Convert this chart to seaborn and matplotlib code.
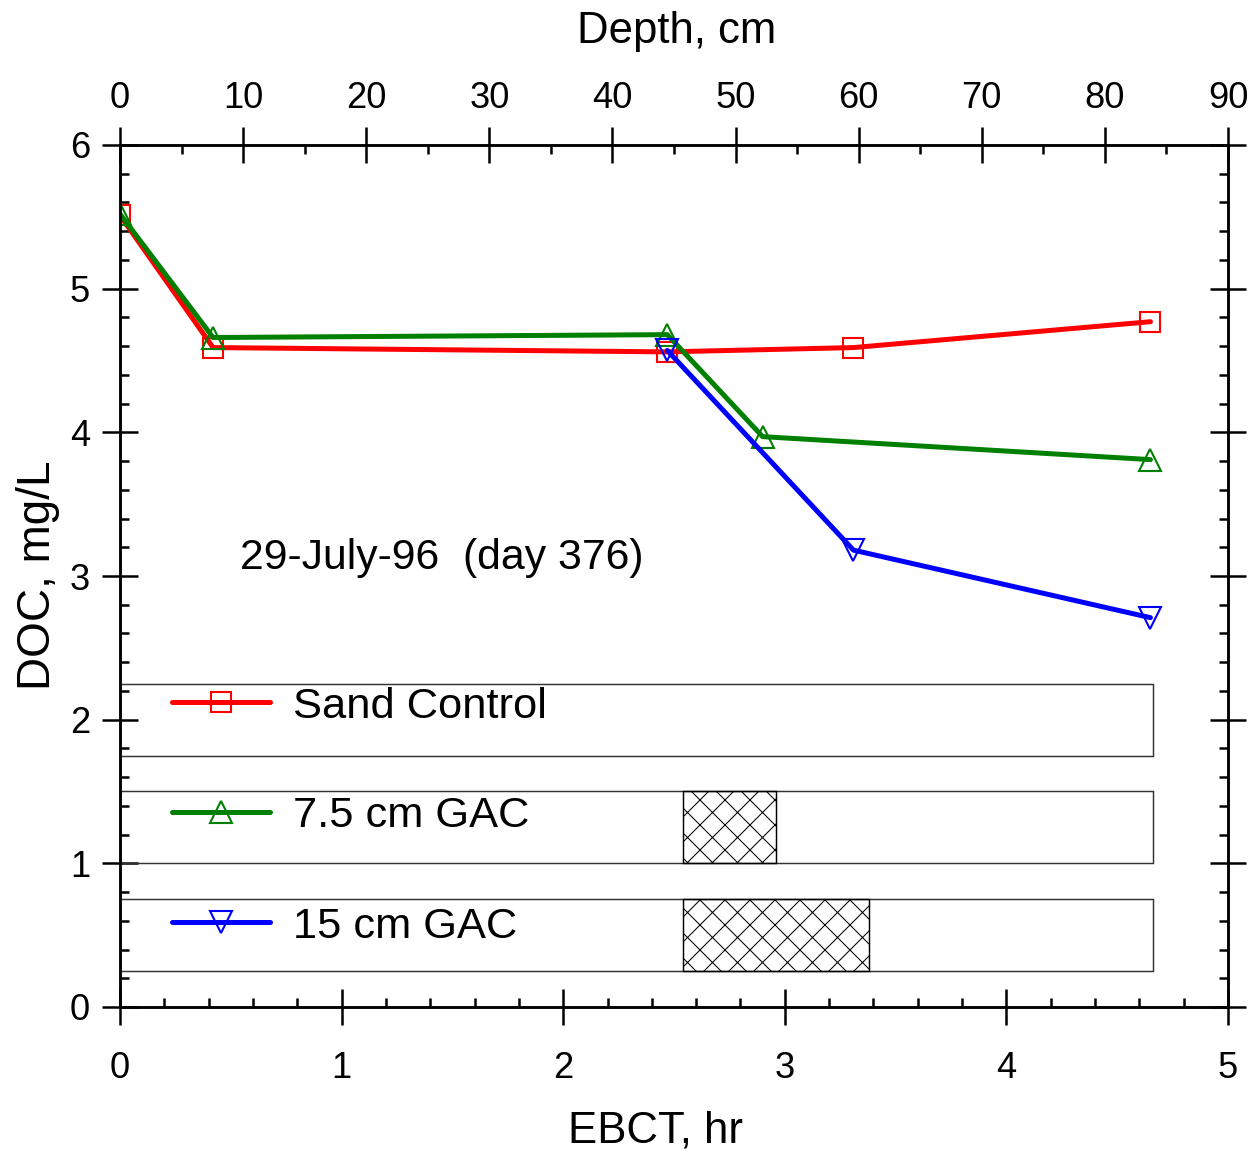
import matplotlib
matplotlib.use('Agg')
import pandas as pd
import matplotlib.pyplot as plt
from matplotlib.patches import Rectangle
from matplotlib.ticker import MultipleLocator
import seaborn as sns

# data (EBCT in hr, DOC in mg/L)
series = ['Sand Control', '7.5 cm GAC', '15 cm GAC']
sand_ebct = [0, 0.42, 2.47, 3.31, 4.65]
sand_doc = [5.51, 4.59, 4.56, 4.59, 4.77]
gac75_ebct = [0, 0.42, 2.47, 2.90, 4.65]
gac75_doc = [5.52, 4.66, 4.68, 3.97, 3.81]
gac15_ebct = [2.47, 3.31, 4.65]
gac15_doc = [4.57, 3.18, 2.71]

colors = ['red', 'green', 'blue']
markers = ['s', '^', 'v']
msizes = [9.6, 11, 11]

# column sketches (hr along the bed): bed end, GAC layer start / end
column_end = 4.66
gac_start = 2.54
gac_end = [None, 2.96, 3.38]

date_label = '29-July-96  (day 376)'

df = pd.concat([
    pd.DataFrame({'EBCT': sand_ebct, 'DOC': sand_doc, 'Column': series[0]}),
    pd.DataFrame({'EBCT': gac75_ebct, 'DOC': gac75_doc, 'Column': series[1]}),
    pd.DataFrame({'EBCT': gac15_ebct, 'DOC': gac15_doc, 'Column': series[2]}),
])

sns.set_style('ticks')
plt.rcParams['font.family'] = ['Liberation Sans', 'DejaVu Sans']
plt.rcParams['hatch.linewidth'] = 0.5
for k in ('text.color', 'axes.labelcolor', 'xtick.color', 'ytick.color'):
    plt.rcParams[k] = 'black'

fig = plt.figure(figsize=(1253 / 150, 1153 / 150), dpi=150)
ax = fig.add_axes([120 / 1253, 1 - 1007 / 1153, 1108 / 1253, 862 / 1153])

for s, c, m, ms in zip(series, colors, markers, msizes):
    sns.lineplot(data=df[df['Column'] == s], x='EBCT', y='DOC', color=c,
                 marker=m, markersize=ms, mfc='none', mec=c, mew=1.0,
                 lw=2.4, ax=ax, legend=False)

# column boxes with legend keys inside
box_bottoms = [1.75, 1.0, 0.25]
key_y = [2.12, 1.36, 0.59]
for i, s in enumerate(series):
    ax.add_patch(Rectangle((0, box_bottoms[i]), column_end, 0.5, fill=False,
                           ec='#333333', lw=0.7, zorder=1))
    if gac_end[i] is not None:
        ax.add_patch(Rectangle((gac_start, box_bottoms[i]), gac_end[i] - gac_start,
                               0.5, fill=False, hatch='xx', ec='black', lw=0.7,
                               zorder=1))
    ax.plot([0.235, 0.677], [key_y[i], key_y[i]], color=colors[i], lw=2.4,
            solid_capstyle='round')
    ax.plot([0.456], [key_y[i]], ls='none', marker=markers[i], ms=msizes[i],
            mfc='none', mec=colors[i], mew=1.0)
    ax.text(0.78, key_y[i], s, fontsize=20.8, va='center_baseline', ha='left')

ax.text(0.54, 3.05, date_label, fontsize=20.5, va='baseline', ha='left')

ax.set_xlim(0, 5)
ax.set_ylim(0, 6)
ax.xaxis.set_major_locator(MultipleLocator(1))
ax.xaxis.set_minor_locator(MultipleLocator(0.2))
ax.yaxis.set_major_locator(MultipleLocator(1))
ax.yaxis.set_minor_locator(MultipleLocator(0.2))
ax.tick_params(which='major', direction='inout', length=17, width=1.2,
               labelsize=17.4, right=True, top=False)
ax.tick_params(which='minor', direction='in', length=4.3, width=1.2,
               right=True, top=False)
ax.tick_params(axis='x', which='major', pad=12.5)
ax.tick_params(axis='y', which='major', pad=5.8)

ax.set_xlabel('EBCT, hr', fontsize=21, va='center')
ax.xaxis.set_label_coords(0.483, -0.1435)
ax.set_ylabel('DOC, mg/L', fontsize=22, va='center')
ax.yaxis.set_label_coords(-0.074, 0.501)

ax2 = ax.twiny()
ax2.set_xlim(0, 90)
ax2.xaxis.set_major_locator(MultipleLocator(10))
ax2.xaxis.set_minor_locator(MultipleLocator(5))
ax2.tick_params(which='major', direction='inout', length=17, width=1.2,
                labelsize=17.4, pad=5.6)
ax2.tick_params(which='minor', direction='in', length=4.3, width=1.2)
ax2.set_xlabel('Depth, cm', fontsize=21, va='center')
ax2.xaxis.set_label_coords(0.502, 1.1322)

for a in (ax, ax2):
    for sp in a.spines.values():
        sp.set_linewidth(1.2)
        sp.set_color('black')

fig.savefig('out.png', dpi=150)
